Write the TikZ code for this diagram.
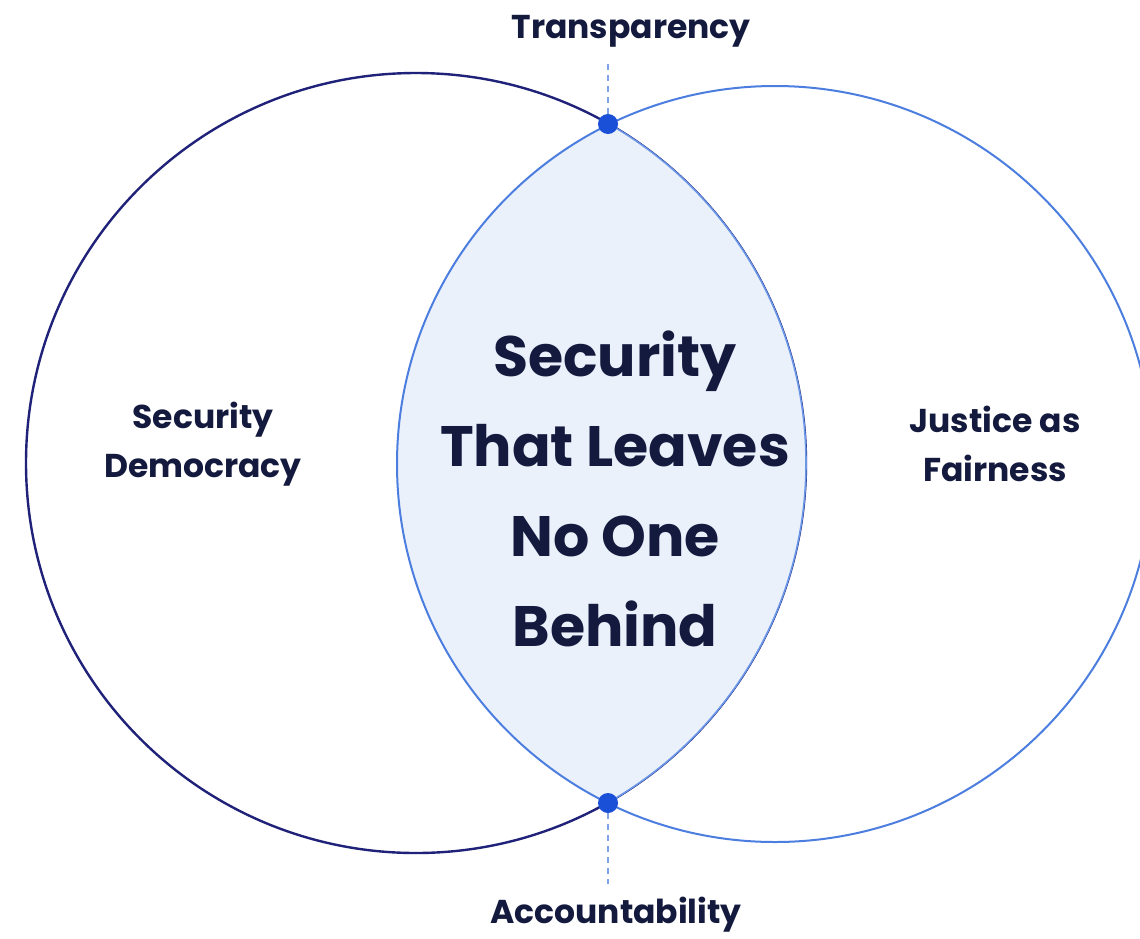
\documentclass[tikz,border=0pt]{standalone}
\usepackage{fontspec}
\setmainfont{Poppins}
\definecolor{navy}{HTML}{1F2278}
\definecolor{rblue}{HTML}{4C7EE0}
\definecolor{lensfill}{HTML}{EBF1FB}
\definecolor{lensline}{HTML}{6B97E8}
\definecolor{dotblue}{HTML}{1A4FD8}
\definecolor{txt}{HTML}{141A3E}
\definecolor{dashc}{HTML}{7FA2EA}
\begin{document}
\begin{tikzpicture}[x=1pt,y=-1pt,
  dotnode/.style={circle,fill=dotblue,inner sep=0pt,minimum size=20pt},
  lab/.style={text=txt,font=\bfseries\fontsize{33}{38}\selectfont,inner sep=0pt},
  side/.style={text=txt,font=\bfseries\fontsize{33}{49}\selectfont,align=center,inner sep=0pt},
  central/.style={text=txt,font=\bfseries\fontsize{57}{90}\selectfont,align=center,inner sep=0pt},
  dashline/.style={dashc,line width=1.5pt,dash pattern=on 6pt off 5pt}]
\useasboundingbox (0,0) rectangle (1140,938);
\fill[white] (0,0) rectangle (1140,938);
\clip (0,0) rectangle (1140,938);
\draw[navy,line width=2.4pt] (416,463) circle[radius=390pt];
\begin{scope}
  \clip (775,464) circle[radius=378pt];
  \fill[lensfill] (416,463) circle[radius=390pt];
  \draw[lensline,line width=1.6pt] (416,463) circle[radius=390pt];
\end{scope}
\draw[rblue,line width=2pt] (775,464) circle[radius=378pt];

\node[lab] (tr) at (631,31) {Transparency};
\node[lab] (ac) at (616,915) {Accountability};
\node[dotnode] (top) at (608,124) {};
\node[dotnode] (bot) at (608,803) {};
\coordinate (tend) at (608,60);
\coordinate (bend) at (608,884);
\draw[dashline] (top) -- (tend);
\draw[dashline] (bot) -- (bend);

\node[side] (sd) at (203,444) {Security\\Democracy};
\node[side] (jf) at (995,444) {Justice as\\Fairness};
\node[central] (c) at (615,489) {Security\\That Leaves\\No One\\Behind};
\end{tikzpicture}
\end{document}
